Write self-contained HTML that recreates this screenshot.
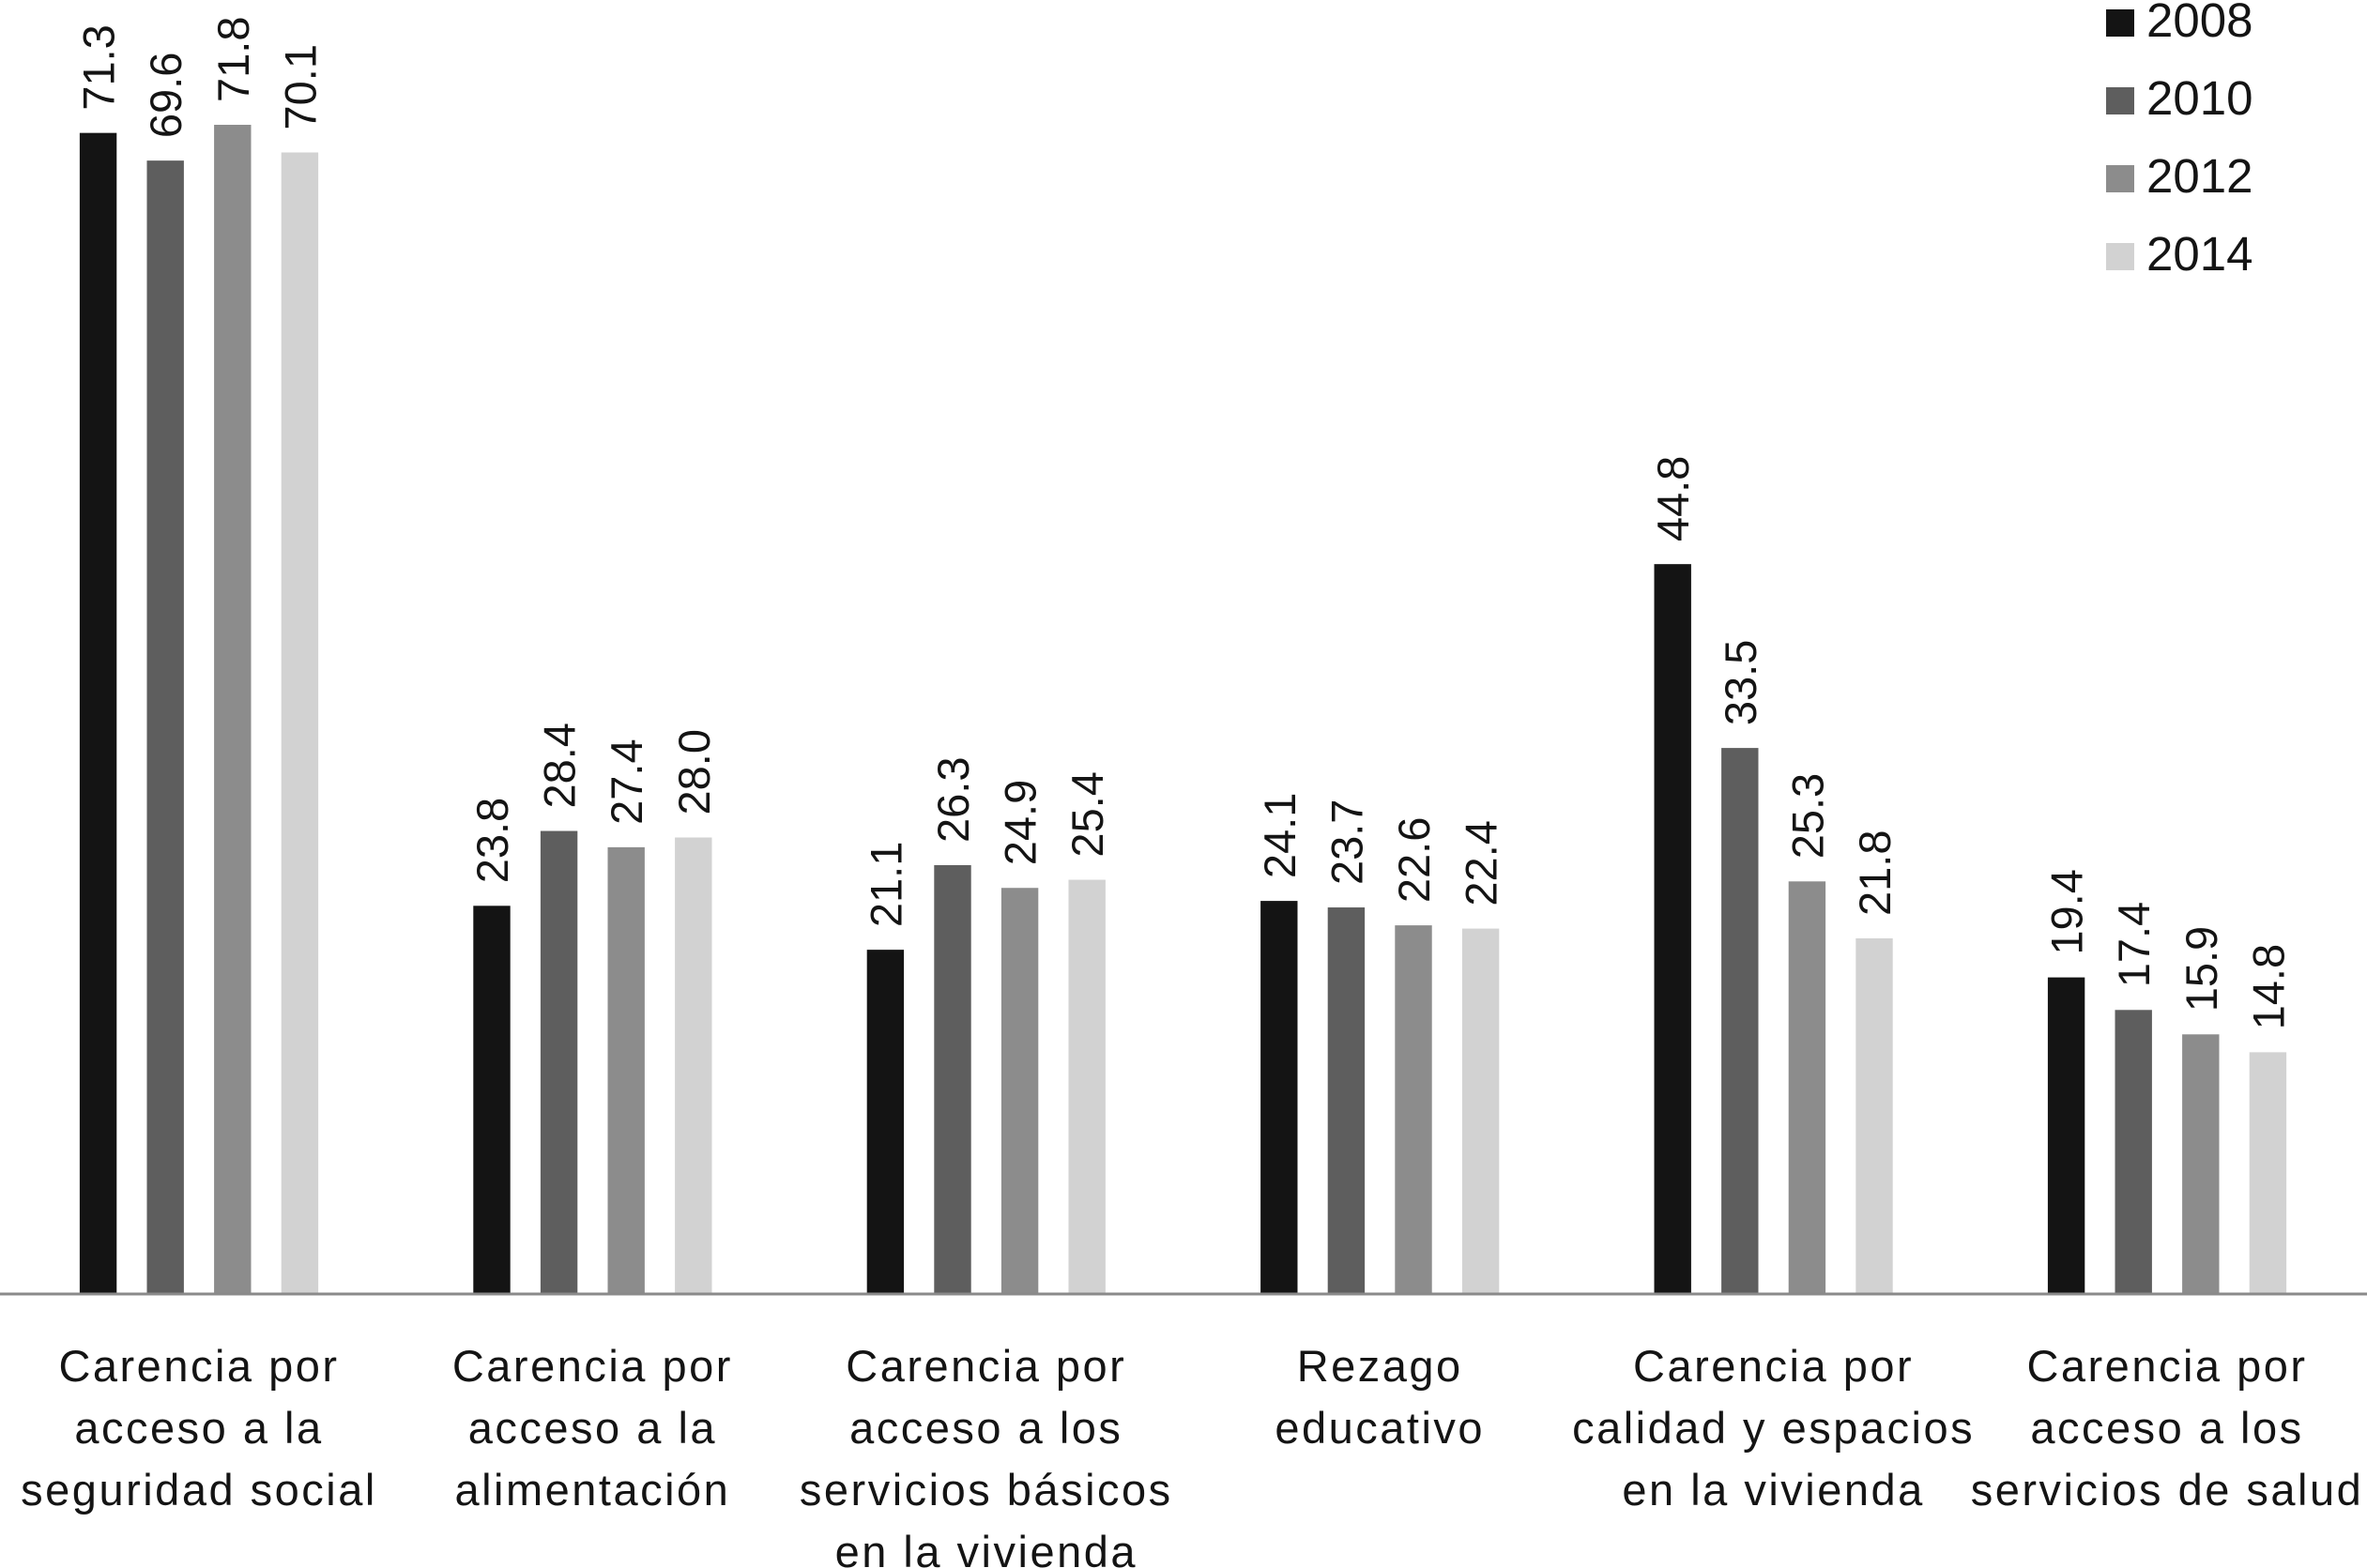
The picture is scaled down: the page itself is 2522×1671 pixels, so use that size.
<!DOCTYPE html>
<html><head><meta charset="utf-8"><style>
html,body{margin:0;padding:0;background:#fff;}
svg{display:block;font-family:"Liberation Sans",sans-serif;}
</style></head><body>
<svg id="chart" width="2522" height="1671" viewBox="0 0 2522 1671" xmlns="http://www.w3.org/2000/svg">
<g id="bars"></g>
<g id="labels"></g>
<line x1="0" x2="2522" y1="1379" y2="1379" stroke="#8a8a8a" stroke-width="3"/>
<g id="cats"></g>
<g id="legend"></g>
</svg>
<script>
const categories = [
 ["Carencia por","acceso a la","seguridad social"],
 ["Carencia por","acceso a la","alimentación"],
 ["Carencia por","acceso a los","servicios básicos","en la vivienda"],
 ["Rezago","educativo"],
 ["Carencia por","calidad y espacios","en la vivienda"],
 ["Carencia por","acceso a los","servicios de salud"]
];
const seriesNames = ["2008","2010","2012","2014"];
const s2008 = [71.3, 23.8, 21.1, 24.1, 44.8, 19.4];
const s2010 = [69.6, 28.4, 26.3, 23.7, 33.5, 17.4];
const s2012 = [71.8, 27.4, 24.9, 22.6, 25.3, 15.9];
const s2014 = [70.1, 28.0, 25.4, 22.4, 21.8, 14.8];
const series = [s2008, s2010, s2012, s2014];
const colors = ["#141414","#5e5e5e","#8c8c8c","#d2d2d2"];
const NS = "http://www.w3.org/2000/svg";
const baseY = 1378, pxPerUnit = 17.34;
const yScale = v => baseY - v * pxPerUnit;
const groupCenter = i => 212 + i * 419.4;
const pitch = 71.6, bw = 39.4;
const barX = (i, s) => groupCenter(i) + (s - 1.5) * pitch - bw / 2;
const bars = document.getElementById('bars');
const labels = document.getElementById('labels');
series.forEach((vals, s) => {
  vals.forEach((v, i) => {
    const r = document.createElementNS(NS, 'rect');
    
    
    r.setAttribute('x', barX(i, s));
    r.setAttribute('y', yScale(v));
    r.setAttribute('width', bw);
    r.setAttribute('height', baseY - yScale(v));
    r.setAttribute('fill', colors[s]);
    bars.appendChild(r);
    const t = document.createElementNS(NS, 'text');
    
    
    const cx = barX(i, s) + bw / 2 + 17, ty = yScale(v) - 24;
    t.setAttribute('transform', 'translate(' + cx + ',' + ty + ') rotate(-90)');
    t.setAttribute('font-size', '47');
    t.setAttribute('fill', '#141414');
    t.textContent = v.toFixed(1);
    labels.appendChild(t);
  });
});
const cats = document.getElementById('cats');
categories.forEach((lines, i) => {
  lines.forEach((ln, k) => {
    const t = document.createElementNS(NS, 'text');
    
    
    t.setAttribute('x', groupCenter(i));
    t.setAttribute('y', 1472 + k * 66);
    t.setAttribute('text-anchor', 'middle');
    t.setAttribute('font-size', '47');
    t.setAttribute('letter-spacing', '2.5');
    t.setAttribute('fill', '#141414');
    t.textContent = ln;
    cats.appendChild(t);
  });
});
const legend = document.getElementById('legend');
seriesNames.forEach((n, s) => {
  const r = document.createElementNS(NS, 'rect');
  
  
  r.setAttribute('x', 2244); r.setAttribute('y', 10 + s * 83);
  r.setAttribute('width', 30); r.setAttribute('height', 29);
  r.setAttribute('fill', colors[s]);
  legend.appendChild(r);
  const t = document.createElementNS(NS, 'text');
  
  
  t.setAttribute('x', 2287); t.setAttribute('y', 39 + s * 83);
  t.setAttribute('font-size', '51');
  t.setAttribute('fill', '#141414');
  t.textContent = n;
  legend.appendChild(t);
});
</script>
</body></html>
